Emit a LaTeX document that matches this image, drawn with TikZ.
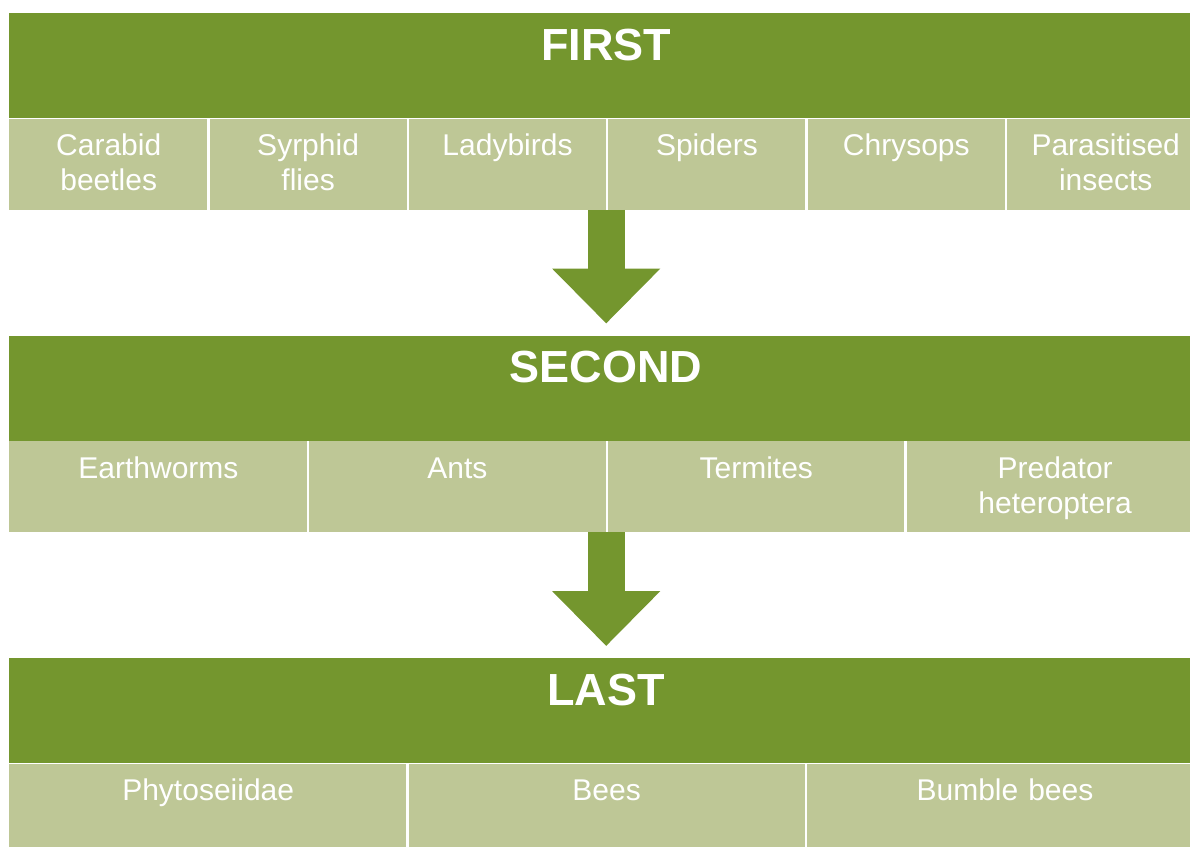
\documentclass[tikz,border=0pt]{standalone}
\usepackage{fontspec}
\setmainfont{Liberation Sans}
\usetikzlibrary{arrows.meta,calc}
\definecolor{bardark}{RGB}{116,150,46}
\definecolor{barlight}{RGB}{190,199,150}
\begin{document}
\begin{tikzpicture}[x=1pt,y=-1pt,
  header/.style={fill=bardark, text=white, anchor=north west, inner sep=0pt,
    minimum width=1194pt, text height=47pt, text depth=58pt,
    font=\bfseries\fontsize{45}{54}\selectfont},
  cell/.style={fill=barlight, text=white, anchor=north west, inner sep=0pt,
    text width=#1, align=center, text height=37pt, text depth=54pt,
    font=\fontsize{30}{35}\selectfont},
  divider/.style={draw=white, line width=2.5pt},
  flow/.style={draw=bardark, line width=37pt,
    -{Triangle[width=105pt,length=55pt]}}]
\clip (0,0) rectangle (1190,846);

% first level
\node[header] (h1) at (9,13) {FIRST};
\node[cell=199pt] (c11) at (h1.south west) {Carabid\\beetles};
\node[cell=199pt] (c12) at (c11.north east) {Syrphid\\flies};
\node[cell=199pt] (c13) at (c12.north east) {Ladybirds};
\node[cell=199pt] (c14) at (c13.north east) {Spiders};
\node[cell=199pt] (c15) at (c14.north east) {Chrysops};
\node[cell=199pt] (c16) at (c15.north east) {Parasitised\\insects};
\foreach \c in {c11,c12,c13,c14,c15}
  \draw[divider] (\c.north east) -- (\c.south east);

% second level
\node[header] (h2) at (9,335.5) {SECOND};
\node[cell=298.5pt] (c21) at (h2.south west) {Earthworms};
\node[cell=298.5pt] (c22) at (c21.north east) {Ants};
\node[cell=298.5pt] (c23) at (c22.north east) {Termites};
\node[cell=298.5pt] (c24) at (c23.north east) {Predator\\heteroptera};
\foreach \c in {c21,c22,c23}
  \draw[divider] (\c.north east) -- (\c.south east);

% last level
\node[header] (h3) at (9,658) {LAST};
\node[cell=398pt] (c31) at (h3.south west) {Phytoseiidae};
\node[cell=398pt] (c32) at (c31.north east) {Bees};
\node[cell=398pt] (c33) at (c32.north east) {Bumble bees};
\foreach \c in {c31,c32}
  \draw[divider] (\c.north east) -- (\c.south east);

% block arrows between levels
\draw[flow] (h1.center |- c11.south) -- ($(h2.north)+(0,-12)$);
\draw[flow] (h2.center |- c21.south) -- ($(h3.north)+(0,-12)$);
\end{tikzpicture}
\end{document}
